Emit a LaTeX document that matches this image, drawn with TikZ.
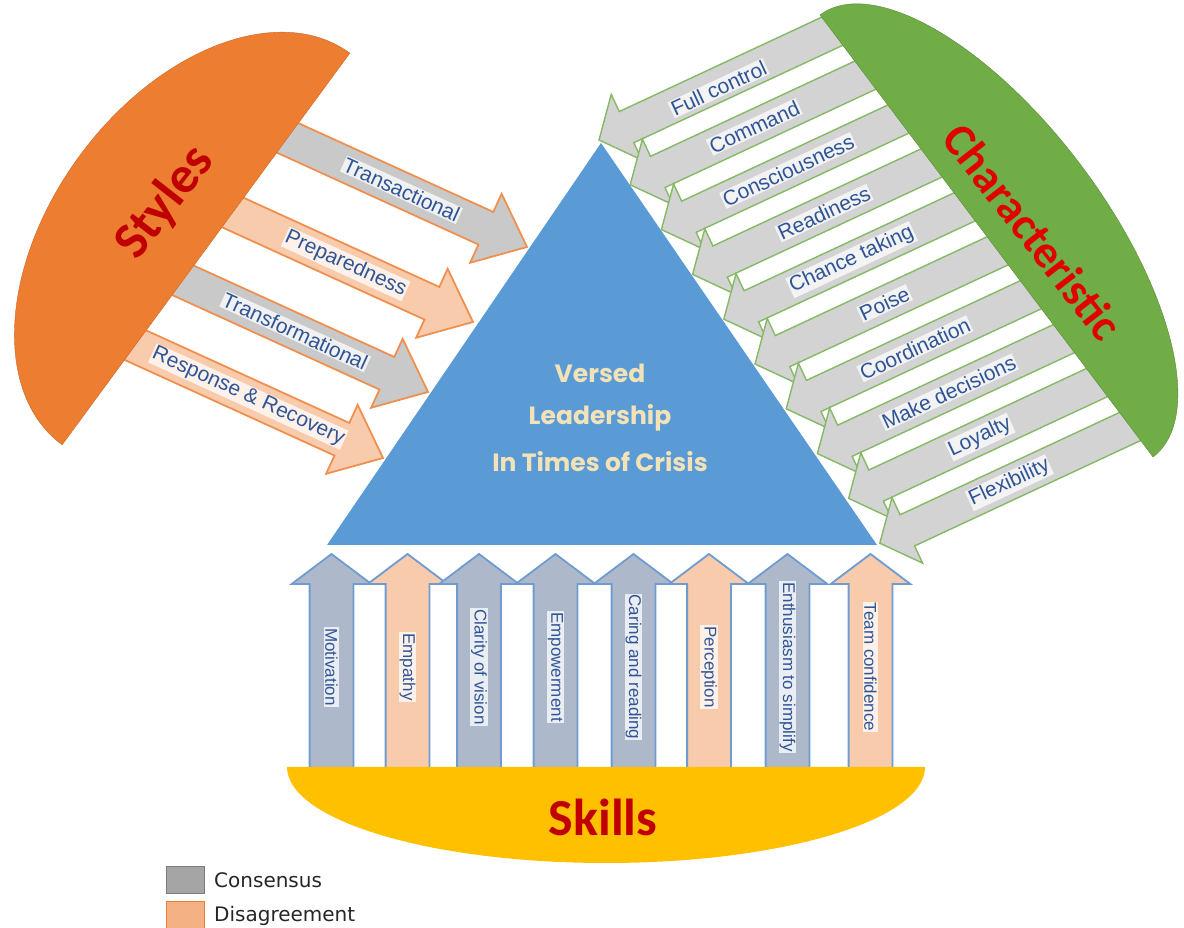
\documentclass[tikz,border=0pt]{standalone}
\usepackage{fontspec}
\setmainfont{Liberation Sans}
\newfontfamily\titlefont{Carlito}
\newfontfamily\crisisfont{Poppins}
\newfontfamily\legendfont{DejaVu Sans}
\usetikzlibrary{shapes.arrows,calc}
\definecolor{consensus}{HTML}{C9C9C9}
\definecolor{chargray}{HTML}{D3D3D3}
\definecolor{skillgray}{HTML}{ADB9CA}
\definecolor{disagree}{HTML}{F8CBAD}
\definecolor{labelblue}{HTML}{2F5597}
\definecolor{styleorange}{HTML}{ED7D31}
\definecolor{chargreen}{HTML}{70AD47}
\definecolor{skillblue}{HTML}{6E9BD1}
\definecolor{skillgold}{HTML}{FFC000}
\definecolor{crisisblue}{HTML}{5B9BD5}
\definecolor{crisiscream}{HTML}{F2E2B8}
\definecolor{titlered}{HTML}{C00000}
\definecolor{charred}{HTML}{E00000}
\definecolor{legendgray}{HTML}{A5A5A5}
\definecolor{legendpeach}{HTML}{F4B183}
\tikzstyle{stylearrow}=[single arrow,draw=styleorange!85!white,line width=1.8pt,inner xsep=0pt,inner ysep=17pt,outer sep=0pt,single arrow head extend=20pt,single arrow tip angle=80,minimum height=330pt,rotate=-24.5,anchor=tip]
\tikzstyle{chararrow}=[single arrow,draw=chargreen!85!white,fill=chargray,line width=1.4pt,inner xsep=0pt,inner ysep=16.5pt,outer sep=0pt,single arrow head extend=19pt,single arrow tip angle=100,minimum height=330pt,rotate=205,anchor=tip]
\tikzstyle{skillarrow}=[single arrow,draw=skillblue,line width=1.8pt,inner xsep=0pt,inner ysep=21pt,outer sep=0pt,single arrow head extend=18pt,single arrow tip angle=106,minimum height=214pt,rotate=90,anchor=tip]
\tikzstyle{armlabel}=[text=labelblue,fill=white,fill opacity=.75,text opacity=1,inner sep=1pt,font=\fontsize{21}{21}\selectfont]
\tikzstyle{skilllabel}=[armlabel,font=\fontsize{17}{17}\selectfont,rotate=-90]
\tikzstyle{titletext}=[font=\titlefont\bfseries\fontsize{52}{52}\selectfont,text=titlered,inner sep=0pt]
\tikzstyle{crisistext}=[font=\crisisfont\bfseries\fontsize{25}{25}\selectfont,text=crisiscream,inner sep=0pt]
\tikzstyle{legendbox}=[draw,line width=1pt,minimum width=38pt,minimum height=27pt,inner sep=0pt]
\tikzstyle{legendtext}=[font=\legendfont\fontsize{20}{20}\selectfont,text=black!85,inner sep=0pt,anchor=west]
\begin{document}
\begin{tikzpicture}[x=1pt,y=1pt]
        \useasboundingbox (0,0) rectangle (1184,928);
        \coordinate (apex) at (601,785);
        \coordinate (baseleft) at (327,383);
        \coordinate (baseright) at (877,383);
        \fill[crisisblue] (apex) -- (baseleft) -- (baseright) -- cycle;

        \begin{scope}
            \clip (-226,91) -- (638,1267) -- (1300,1267) -- (1300,-100) -- (-226,-100) -- cycle;
            \path (527,681) node[stylearrow,fill=consensus] (transactional) {}
                ++(-54,-75) node[stylearrow,fill=disagree] (preparedness) {}
                ++(-45,-70) node[stylearrow,fill=consensus] (transformational) {}
                ++(-45,-66) node[stylearrow,fill=disagree] (response) {}
                ;
        \end{scope}
        \begin{scope}[shift={(206,679)},rotate=53.7]
            \filldraw[fill=styleorange,draw=styleorange!85!black] (-243,0) arc[start angle=180,end angle=0,x radius=243,y radius=157] -- cycle;
        \end{scope}

        \begin{scope}
            \clip (487,1355) -- (1486,29) -- (1486,-100) -- (-100,-100) -- (-100,1355) -- cycle;
            \path (599,788) node[chararrow] (fullcontrol) {}
                ++(31.2,-44.8) node[chararrow] (command) {}
                ++(31.2,-44.8) node[chararrow] (consciousness) {}
                ++(31.2,-44.8) node[chararrow] (readiness) {}
                ++(31.2,-44.8) node[chararrow] (chancetaking) {}
                ++(31.2,-44.8) node[chararrow] (poise) {}
                ++(31.2,-44.8) node[chararrow] (coordination) {}
                ++(31.2,-44.8) node[chararrow] (decisions) {}
                ++(31.2,-44.8) node[chararrow] (loyalty) {}
                ++(31.2,-44.8) node[chararrow] (flexibility) {}
                ;
        \end{scope}
        \begin{scope}[shift={(986.5,692)},rotate=-53]
            \filldraw[fill=chargreen,draw=chargreen!80!black] (-276.7,0) arc[start angle=180,end angle=0,x radius=276.7,y radius=118] -- cycle;
        \end{scope}

        \path (331.5,374) node[skillarrow,fill=skillgray] (motivation) {}
            ++(76,0) node[skillarrow,fill=disagree] (empathy) {}
            ++(71.5,0) node[skillarrow,fill=skillgray] (clarity) {}
            ++(76.5,0) node[skillarrow,fill=skillgray] (empowerment) {}
            ++(78,0) node[skillarrow,fill=skillgray] (caring) {}
            ++(75.5,0) node[skillarrow,fill=disagree] (perception) {}
            ++(78.5,0) node[skillarrow,fill=skillgray] (enthusiasm) {}
            ++(83,0) node[skillarrow,fill=disagree] (teamconfidence) {}
            ;
        \fill[skillgold] (287,161) arc[start angle=180,end angle=360,x radius=319,y radius=96] -- cycle;

        \node[armlabel,rotate=-24.5] (transactionallabel) at ($(transactional.tip)+(155.5:138)$) {Transactional};
        \node[armlabel,rotate=-24.5] (preparednesslabel) at ($(preparedness.tip)+(155.5:140)$) {Preparedness};
        \node[armlabel,rotate=-24.5] (transformationallabel) at ($(transformational.tip)+(155.5:146)$) {Transformational};
        \node[armlabel,rotate=-24.5] (responselabel) at ($(response.tip)+(155.5:148)$) {Response \& Recovery};

        \node[armlabel,rotate=25] (fullcontrollabel) at ($(fullcontrol.tip)+(25:132)+(0,-4)$) {Full control};
        \node[armlabel,rotate=25] (commandlabel) at ($(command.tip)+(25:137)$) {Command};
        \node[armlabel,rotate=25] (consciousnesslabel) at ($(consciousness.tip)+(25:140)$) {Consciousness};
        \node[armlabel,rotate=25] (readinesslabel) at ($(readiness.tip)+(25:145)$) {Readiness};
        \node[armlabel,rotate=25] (chancetakinglabel) at ($(chancetaking.tip)+(25:141)$) {Chance taking};
        \node[armlabel,rotate=25] (poiselabel) at ($(poise.tip)+(25:143)$) {Poise};
        \node[armlabel,rotate=25] (coordinationlabel) at ($(coordination.tip)+(25:142)$) {Coordination};
        \node[armlabel,rotate=25] (decisionslabel) at ($(decisions.tip)+(25:145)$) {Make decisions};
        \node[armlabel,rotate=25] (loyaltylabel) at ($(loyalty.tip)+(25:145)$) {Loyalty};
        \node[armlabel,rotate=25] (flexibilitylabel) at ($(flexibility.tip)+(25:143)$) {Flexibility};

        \node[skilllabel] (motivationlabel) at ($(motivation.tip)+(0,-113)$) {Motivation};
        \node[skilllabel] (empathylabel) at ($(empathy.tip)+(0,-113)$) {Empathy};
        \node[skilllabel] (claritylabel) at ($(clarity.tip)+(0,-113)$) {Clarity of vision};
        \node[skilllabel] (empowermentlabel) at ($(empowerment.tip)+(0,-113)$) {Empowerment};
        \node[skilllabel] (caringlabel) at ($(caring.tip)+(0,-113)$) {Caring and reading};
        \node[skilllabel] (perceptionlabel) at ($(perception.tip)+(0,-113)$) {Perception};
        \node[skilllabel] (enthusiasmlabel) at ($(enthusiasm.tip)+(0,-113)$) {Enthusiasm to simplify};
        \node[skilllabel] (teamconfidencelabel) at ($(teamconfidence.tip)+(0,-113)$) {Team confidence};

        \node[titletext,rotate=52] (stylestitle) at (165,725) {Styles};
        \node[titletext,font=\titlefont\bfseries\fontsize{46}{46}\selectfont,text=charred,rotate=-52] (chartitle) at (1033,696) {Characteristic};
        \node[titletext] (skillstitle) at (603,111) {Skills};

        \node[crisistext] (versed) at (600,555) {Versed};
        \node[crisistext] (leadership) at (600,510) {Leadership};
        \node[crisistext] (crisis) at (600,466) {In Times of Crisis};

        \node[legendbox,fill=legendgray,draw=legendgray!75!black] (consensusbox) at (185,47.5) {};
        \node[legendtext] (consensustext) at (214,47.5) {Consensus};
        \node[legendbox,fill=legendpeach,draw=styleorange] (disagreebox) at (185,12.5) {};
        \node[legendtext] (disagreetext) at (214,12.5) {Disagreement};
\end{tikzpicture}
\end{document}
